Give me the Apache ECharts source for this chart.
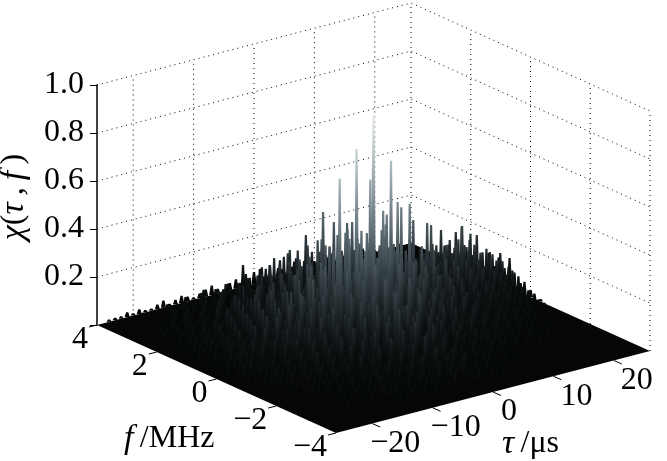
<!DOCTYPE html>
<html>
<head>
<meta charset="utf-8">
<style>
html, body { margin: 0; padding: 0; background: #fff; }
#main { width: 667px; height: 461px; }
</style>
<script src="https://cdn.jsdelivr.net/npm/echarts@6/dist/echarts.min.js"></script>
</head>
<body>
<div id="main"></div>
<script>
// axis ticks
var zTicks = [0.2, 0.4, 0.6, 0.8, 1.0];
var tauTicks = [-20, -10, 0, 10, 20];
var fTicks = [4, 2, 0, -2, -4];
var tauRange = [-26, 26];
var fRange = [-4, 4];

// chi in percent, one row per f (4 down to -4 in 1/3 steps), tau -26..26
var chi = [
[0,0,1,1,1,2,1,2,1,1, 2,3,1,2,3,2,1,2,3,4, 2,1,3,4,2,3,5,2,3,1, 4,2,2,4,1,2,3,4,2,1, 3,2,1,2,3,2,1,2,1,1, 1,0,0],
[0,1,1,2,1,2,3,2,3,2, 4,3,2,5,3,3,6,2,5,3, 6,3,5,8,3,6,5,9,3,6, 5,8,3,6,3,5,6,2,4,3, 5,3,2,4,2,3,3,2,2,1, 1,1,0],
[0,1,2,2,3,2,4,3,2,5, 3,6,3,5,8,3,6,5,9,5, 8,3,9,6,12,5,8,13,5,9, 6,10,5,8,3,9,5,6,3,7, 3,5,6,3,4,2,3,3,2,2, 1,1,0],
[0,1,2,3,2,4,3,3,6,3, 7,5,3,9,5,6,10,3,8,6, 12,5,9,14,6,10,17,8,15,6, 12,9,5,13,8,10,5,9,6,3, 8,5,6,3,5,3,3,4,2,2, 1,1,0],
[0,1,3,2,4,3,6,3,7,5, 3,9,6,5,12,5,9,13,6,10, 15,8,18,9,13,21,10,16,8,19, 14,11,17,8,15,10,12,7,11,8, 9,5,8,6,5,7,4,4,4,3, 2,1,0],
[0,2,3,4,3,6,3,7,5,9, 6,5,12,6,10,8,15,6,12,18, 8,13,20,10,16,24,9,19,13,22, 12,18,14,19,9,15,11,14,8,12, 9,11,7,9,5,8,6,4,5,3, 3,1,0],
[0,2,3,3,6,5,7,5,9,6, 12,6,10,15,8,13,9,17,10,19, 12,16,23,11,20,28,15,24,14,22, 18,14,22,11,19,15,10,17,12,9, 14,10,8,11,8,6,8,5,5,4, 3,1,0],
[0,2,4,3,6,5,9,6,10,8, 13,9,16,8,15,19,10,18,13,22, 12,20,26,15,23,32,18,28,16,25, 20,24,13,21,17,12,20,15,10,15, 16,14,17,15,18,14,16,12,10,8, 6,3,0],
[0,2,3,6,5,8,6,10,6,13, 9,16,10,19,12,18,22,14,20,15, 25,16,29,18,35,19,26,22,31,18, 25,20,30,15,22,18,12,21,13,17, 15,18,14,20,16,19,17,14,16,12, 9,5,1],
[0,3,4,5,8,6,10,8,13,9, 15,10,19,12,22,14,20,16,26,18, 29,19,25,35,20,38,22,32,18,28, 22,33,16,25,20,24,15,21,12,18, 17,20,16,22,18,23,20,24,18,15, 14,8,3],
[0,2,4,6,5,9,8,12,8,15, 10,18,12,20,15,23,17,26,18,31, 21,28,37,22,32,42,24,35,25,29, 19,35,24,28,17,22,20,16,21,13, 18,22,15,24,17,20,22,18,19,16, 14,9,4],
[0,3,4,6,9,6,10,8,15,9, 18,12,20,14,25,16,22,29,20,34, 23,38,26,44,24,40,31,37,22,41, 27,34,20,30,25,17,24,15,20,16, 16,21,14,19,16,18,15,17,16,15, 12,9,4],
[0,3,6,5,9,8,12,9,16,10, 19,13,23,15,26,18,31,21,35,22, 40,25,44,29,46,35,44,38,46,28, 41,24,37,28,33,21,30,19,25,16, 21,13,18,15,17,12,15,13,12,13, 10,7,3],
[0,2,4,6,8,6,12,8,13,10, 16,12,19,15,22,13,26,18,29,16, 34,22,32,40,20,36,28,39,23,33, 21,30,24,27,17,22,16,20,13,18, 12,15,11,14,13,10,12,10,9,8, 6,4,1],
[0,2,4,4,7,6,8,6,13,8, 14,10,17,13,20,11,23,16,19,27, 14,31,21,36,17,30,24,34,16,25, 22,25,16,20,18,14,19,11,15,10, 14,10,12,11,9,10,8,8,7,5, 4,2,0],
[0,1,3,5,4,7,6,9,7,11, 8,14,9,16,11,18,12,20,15,25, 12,27,18,32,14,26,19,30,16,22, 14,21,17,12,18,11,16,10,13,8, 11,7,10,8,6,6,5,5,3,3, 2,1,0],
[0,1,3,4,5,4,7,5,9,7, 12,8,13,9,16,10,18,8,21,13, 25,10,20,28,14,22,17,26,9,18, 15,18,10,16,12,9,14,8,11,7, 10,8,6,8,5,6,4,3,3,2, 2,1,0],
[0,1,2,3,4,5,4,7,5,9, 6,11,7,10,14,6,15,10,17,9, 20,12,24,11,16,21,10,18,13,15, 9,14,12,8,13,7,11,6,9,6, 7,5,7,5,4,4,3,3,2,2, 1,1,0],
[0,1,1,3,2,4,5,4,6,5, 8,5,10,6,12,7,11,14,6,16, 8,18,11,20,7,14,17,10,13,6, 12,9,7,11,8,9,5,7,5,6, 5,3,5,3,3,3,2,2,1,1, 1,0,0],
[0,0,1,2,3,3,2,5,3,6, 4,7,5,8,6,9,5,10,7,12, 6,14,8,16,9,11,13,7,10,8, 5,9,6,4,7,4,6,3,5,2, 4,2,3,2,2,1,1,1,1,1, 1,0,0],
[0,0,1,1,2,2,3,2,4,3, 5,3,6,4,7,5,6,8,4,10, 6,11,7,13,6,9,11,5,8,4, 7,5,6,3,5,3,3,4,2,2, 2,2,1,1,1,1,1,1,1,0, 0,0,0],
[0,0,1,1,1,2,2,3,2,3, 3,4,3,5,4,6,3,7,4,8, 5,6,10,4,7,5,9,4,6,3, 5,4,3,5,3,3,2,3,2,2, 2,1,1,1,1,1,1,0,0,0, 0,0,0],
[0,0,0,1,1,1,2,2,2,3, 2,3,2,3,4,3,4,3,5,3, 6,3,4,7,3,5,4,6,3,4, 3,4,2,3,2,2,2,2,1,1, 1,1,1,1,0,0,0,0,0,0, 0,0,0],
[0,0,0,0,1,0,1,1,1,1, 1,1,2,1,1,2,1,2,1,2, 2,3,1,2,3,1,2,1,2,1, 2,1,1,1,1,1,0,1,0,1, 0,0,0,0,0,0,0,0,0,0, 0,0,0]
];

// the tall spikes and the jagged back skyline, read one by one
var peakTau = [-5.6, -2.8, 0, 2.9, 0.2, 0.4, 6, 4, 1.6, 4.6, 2.2, -1.1, 0.55, 1.6, 2.75, 2.4, 2.9, -0.6, -3, 18.3, 12.8, 10.4, 12.3,
	18.8, 19.6, 21, 21.4, 21.7, 22.5, 23.8, 24.7, 25.6, -3.4, -1.5];
var peakF = [0, 0, 0, 0, 0.15, 0.1, 0, 0, 0, 0, 0, 0, 1.8, 1.65, 1.44, 1.2, 2.85, 2.68, 2.72, 0.75, 0.66, 0.77, 0.69,
	1.54, 1.41, 1.49, 1.36, 1.17, 1.09, 0.92, 0.75, 0.62, 3.68, 3.5];
var peakZ = [0.70, 0.806, 0.93, 0.72, 0.65, 0.70, 0.52, 0.54, 0.52, 0.515, 0.5, 0.445, 0.42, 0.38, 0.38, 0.4, 0.25, 0.22, 0.2, 0.3, 0.35, 0.38, 0.36,
	0.24, 0.2, 0.22, 0.25, 0.2, 0.22, 0.15, 0.15, 0.13, 0.12, 0.1];

var colormap = ['#050707', '#0f1314', '#262f33', '#3c484d', '#53626a', '#6d7e85', '#8a9ca1', '#a9babd', '#c5d3d5', '#dfe8e8', '#ffffff'];

// oblique view of the box: tau and f shift the point on the page
function viewX(tau, f) {
	var u = (tau - tauRange[0]) / (tauRange[1] - tauRange[0]);
	var v = (fRange[1] - f) / (fRange[1] - fRange[0]);
	return 314 * u + 239 * v;
}
function viewZ(tau, f, z) {
	var u = (tau - tauRange[0]) / (tauRange[1] - tauRange[0]);
	var v = (fRange[1] - f) / (fRange[1] - fRange[0]);
	return z + (82 * u - 108 * v) / 240;
}
function depth(tau, f) {
	return -tau / 26 - f / 4;
}

var spikes = [];
chi.forEach(function (row, j) {
	row.forEach(function (val, i) {
		if (val > 0) spikes.push([tauRange[0] + i, fRange[1] - j / 3, val / 100]);
	});
});
peakTau.forEach(function (t, i) {
	spikes.push([t, peakF[i], peakZ[i]]);
});
spikes.sort(function (a, b) { return depth(a[0], a[1]) - depth(b[0], b[1]); });

function minusText(n) {
	return String(n).replace('-', '\u2212');
}
function pt(api, tau, f, z) {
	return api.coord([viewX(tau, f), viewZ(tau, f, z)]);
}
var dotted = { stroke: '#000', lineWidth: 1, lineDash: [1, 4], fill: null };
var titleRich = {
	i: { fontFamily: 'Liberation Serif', fontStyle: 'italic', fontSize: 34, fill: '#000' },
	r: { fontFamily: 'Liberation Serif', fontSize: 32, fill: '#000' }
};

var myChart = echarts.init(document.getElementById('main'), null, { renderer: 'canvas' });

myChart.setOption({
	animation: false,
	backgroundColor: '#fff',
	grid: { left: 97, top: 85, width: 553, height: 240, outerBoundsMode: 'none' },
	xAxis: { type: 'value', min: 0, max: 553, show: false },
	yAxis: {
		type: 'value',
		min: 0,
		max: 1,
		interval: 0.2,
		axisLine: { show: true, lineStyle: { color: '#000', width: 1.5 } },
		axisTick: { show: true, length: 7, lineStyle: { color: '#000', width: 1 } },
		axisLabel: {
			margin: 13,
			fontFamily: 'Liberation Serif',
			fontSize: 32,
			color: '#000',
			formatter: function (v) { return v === 0 ? '' : v.toFixed(1); }
		},
		splitLine: { show: false }
	},
	graphic: [
		{
			type: 'text', x: 14, y: 197, rotation: Math.PI / 2,
			style: { text: '{i|\u03c7}{r|(}{i|\u03c4\u2009,\u2009f}{r|\u2009)}', align: 'center', verticalAlign: 'middle', rich: titleRich }
		},
		{
			type: 'text', left: 124, top: 422,
			style: { text: '{i|f}{r|\u2009/MHz}', rich: titleRich }
		},
		{
			type: 'text', left: 502, top: 427,
			style: { text: '{i|\u03c4}{r|\u2009/\u03bcs}', rich: titleRich }
		}
	],
	series: [
		{
			// z grid lines round the two back walls
			type: 'custom', clip: false, silent: true, data: zTicks,
			renderItem: function (params, api) {
				var z = api.value(0);
				return { type: 'polyline', shape: { points: [
					pt(api, tauRange[0], fRange[1], z),
					pt(api, tauRange[1], fRange[1], z),
					pt(api, tauRange[1], fRange[0], z)
				] }, style: dotted };
			}
		},
		{
			type: 'custom', clip: false, silent: true, data: tauTicks,
			renderItem: function (params, api) {
				var t = api.value(0);
				return { type: 'polyline', shape: { points: [pt(api, t, fRange[1], 0), pt(api, t, fRange[1], 1)] }, style: dotted };
			}
		},
		{
			type: 'custom', clip: false, silent: true, data: fTicks,
			renderItem: function (params, api) {
				var f = api.value(0);
				return { type: 'polyline', shape: { points: [pt(api, tauRange[1], f, 0), pt(api, tauRange[1], f, 1)] }, style: dotted };
			}
		},
		{
			// floor under the spikes
			type: 'custom', clip: false, silent: true, data: [0],
			renderItem: function (params, api) {
				return { type: 'polygon', shape: { points: [
					pt(api, tauRange[0], fRange[1], 0),
					pt(api, tauRange[1], fRange[1], 0),
					pt(api, tauRange[1], fRange[0], 0),
					pt(api, tauRange[0], fRange[0], 0)
				] }, style: { fill: colormap[0] } };
			}
		},
		{
			type: 'custom', clip: false, silent: true, progressive: 0,
			data: spikes,
			renderItem: function (params, api) {
				var t = api.value(0), f = api.value(1), z = api.value(2);
				var b = pt(api, t, f, 0), p = pt(api, t, f, z);
				return {
					type: 'polygon',
					shape: { points: [[b[0] - 2.6, b[1]], [p[0] - 1.1, p[1]], [p[0] + 1.1, p[1]], [b[0] + 2.6, b[1]]] },
					style: { fill: new echarts.graphic.LinearGradient(0, 0, 0, 1, [
						{ offset: 0, color: echarts.color.lerp(z, colormap) },
						{ offset: 0.5, color: echarts.color.lerp(z / 2, colormap) },
						{ offset: 1, color: colormap[0] }
					]) }
				};
			}
		},
		{
			// tau ticks and labels on the front edge
			type: 'custom', clip: false, silent: true, data: tauTicks,
			renderItem: function (params, api) {
				var t = api.value(0), a = pt(api, t, fRange[0], 0);
				var s = minusText(t);
				return { type: 'group', children: [
					{ type: 'line', shape: { x1: a[0], y1: a[1], x2: a[0] + 8, y2: a[1] + 3.5 }, style: { stroke: '#000', lineWidth: 1 } },
					{ type: 'text', style: { x: a[0] + (s.length === 1 ? 16 : 23), y: a[1] + 20, text: s, align: 'center', verticalAlign: 'middle', font: '32px "Liberation Serif"', fill: '#000' } }
				] };
			}
		},
		{
			// f ticks and labels on the left edge
			type: 'custom', clip: false, silent: true, data: fTicks,
			renderItem: function (params, api) {
				var f = api.value(0), a = pt(api, tauRange[0], f, 0);
				return { type: 'group', children: [
					{ type: 'line', shape: { x1: a[0], y1: a[1], x2: a[0] - 8, y2: a[1] + 2 }, style: { stroke: '#000', lineWidth: 1 } },
					{ type: 'text', style: { x: a[0] - 9, y: a[1] + 15, text: minusText(f), align: 'right', verticalAlign: 'middle', font: '32px "Liberation Serif"', fill: '#000' } }
				] };
			}
		}
	]
});
</script>
</body>
</html>
